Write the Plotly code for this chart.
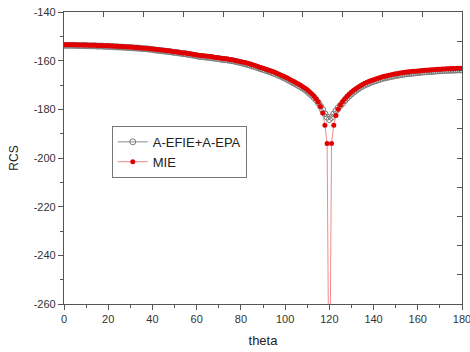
import plotly.graph_objects as go

theta = list(range(0, 181))

mie = [
    -153.5, -153.5, -153.5, -153.5, -153.5, -153.5, -153.6, -153.6, -153.6, -153.6, -153.6,
    -153.7, -153.7, -153.7, -153.7, -153.8, -153.8, -153.8, -153.9, -153.9, -153.9,
    -154.0, -154.0, -154.1, -154.1, -154.2, -154.2, -154.3, -154.3, -154.4, -154.4,
    -154.5, -154.6, -154.6, -154.7, -154.8, -154.9, -154.9, -155.0, -155.1, -155.2,
    -155.3, -155.4, -155.5, -155.6, -155.7, -155.8, -155.9, -156.0, -156.2, -156.3,
    -156.4, -156.5, -156.7, -156.8, -156.9, -157.1, -157.2, -157.4, -157.5, -157.7,
    -157.8, -157.9, -158.0, -158.1, -158.2, -158.3, -158.4, -158.6, -158.7, -158.8,
    -159.0, -159.1, -159.2, -159.3, -159.5, -159.6, -159.8, -160.0, -160.2, -160.4,
    -160.6, -160.8, -161.1, -161.3, -161.6, -161.9, -162.2, -162.5, -162.8, -163.1,
    -163.4, -163.7, -164.0, -164.4, -164.7, -165.1, -165.5, -165.9, -166.3, -166.7,
    -167.1, -167.6, -168.1, -168.6, -169.1, -169.6, -170.1, -170.7, -171.3, -172.0,
    -172.8, -173.6, -174.5, -175.6, -177.0, -178.8, -181.5, -186.5, -194.0, -320.0,
    -194.0, -186.5, -182.5, -180.0, -178.2, -176.8, -175.6, -174.6, -173.7, -172.9,
    -172.2, -171.5, -170.9, -170.3, -169.8, -169.3, -168.9, -168.5, -168.1, -167.8,
    -167.5, -167.2, -166.9, -166.6, -166.4, -166.2, -166.0, -165.8, -165.6, -165.4,
    -165.3, -165.1, -165.0, -164.8, -164.7, -164.6, -164.5, -164.4, -164.3, -164.2,
    -164.1, -164.0, -163.9, -163.9, -163.8, -163.7, -163.7, -163.6, -163.5, -163.5,
    -163.4, -163.4, -163.3, -163.3, -163.2, -163.2, -163.2, -163.1, -163.1, -163.1,
]

efie_epa = [
    -153.7, -153.7, -153.7, -153.7, -153.7, -153.7, -153.8, -153.8, -153.8, -153.8, -153.8,
    -153.9, -153.9, -153.9, -153.9, -154.0, -154.0, -154.0, -154.1, -154.1, -154.1,
    -154.2, -154.2, -154.3, -154.3, -154.4, -154.4, -154.5, -154.5, -154.6, -154.6,
    -154.7, -154.8, -154.8, -154.9, -155.0, -155.1, -155.1, -155.2, -155.3, -155.4,
    -155.6, -155.7, -155.8, -155.9, -156.0, -156.1, -156.2, -156.3, -156.5, -156.6,
    -156.7, -156.8, -157.0, -157.1, -157.2, -157.4, -157.5, -157.7, -157.8, -158.0,
    -158.2, -158.3, -158.4, -158.5, -158.6, -158.7, -158.8, -159.0, -159.1, -159.2,
    -159.4, -159.5, -159.6, -159.7, -159.9, -160.0, -160.2, -160.4, -160.6, -160.8,
    -161.1, -161.3, -161.6, -161.8, -162.1, -162.4, -162.7, -163.0, -163.3, -163.6,
    -163.9, -164.2, -164.5, -164.9, -165.2, -165.6, -166.0, -166.4, -166.8, -167.2,
    -167.7, -168.2, -168.7, -169.2, -169.7, -170.2, -170.7, -171.3, -171.9, -172.6,
    -173.4, -174.2, -175.1, -176.1, -177.3, -178.7, -180.2, -181.8, -183.2, -184.2,
    -183.3, -181.9, -180.6, -179.4, -178.4, -177.5, -176.4, -175.4, -174.5, -173.7,
    -172.9, -172.2, -171.6, -171.0, -170.5, -170.0, -169.6, -169.2, -168.8, -168.5,
    -168.2, -167.9, -167.6, -167.3, -167.1, -166.9, -166.7, -166.5, -166.3, -166.1,
    -166.0, -165.8, -165.7, -165.5, -165.4, -165.3, -165.2, -165.1, -165.0, -164.9,
    -164.8, -164.7, -164.6, -164.6, -164.5, -164.4, -164.4, -164.3, -164.2, -164.2,
    -164.1, -164.1, -164.0, -164.0, -163.9, -163.9, -163.9, -163.8, -163.8, -163.8,
]

x_ticks = [0, 20, 40, 60, 80, 100, 120, 140, 160, 180]
x_labels = ["0", "20", "40", "60", "80", "100", "120", "140", "160", "180"]
y_ticks = [-260, -240, -220, -200, -180, -160, -140]
y_labels = ["-260", "-240", "-220", "-200", "-180", "-160", "-140"]
top_ticks = [0, 18, 36, 54, 72, 90, 108, 126, 144, 162, 180]
right_ticks = [-260, -248, -236, -224, -212, -200, -188, -176, -164, -152, -140]

FONT = "Liberation Sans, Arial, sans-serif"

fig = go.Figure()
fig.add_trace(go.Scatter(
    x=theta, y=efie_epa, name="A-EFIE+A-EPA", mode="lines+markers",
    line=dict(color="#8a8a8a", width=1),
    marker=dict(symbol="circle-open", size=6, color="#7a7a7a", line=dict(width=1)),
))
fig.add_trace(go.Scatter(
    x=theta, y=mie, name="MIE", mode="lines+markers",
    line=dict(color="#f08a8a", width=1),
    marker=dict(symbol="circle", size=5, color="#e00000"),
))
# invisible trace to carry the mirrored (top/right) axes
fig.add_trace(go.Scatter(x=[0, 180], y=[-260, -140], xaxis="x2", yaxis="y2",
                         mode="markers", marker=dict(opacity=0), showlegend=False,
                         hoverinfo="skip"))

axis_common = dict(showgrid=False, zeroline=False, showline=True, automargin=False,
                   linecolor="#555555", linewidth=1.2, tickcolor="#555555")

fig.update_layout(
    width=470, height=352,
    margin=dict(l=64, r=8, t=12, b=48),
    paper_bgcolor="white", plot_bgcolor="white",
    font=dict(family=FONT, size=11, color="#333333"),
    xaxis=dict(range=[0, 180], tickvals=x_ticks, ticktext=x_labels, ticks="outside", ticklen=5,
               ticklabeloverflow="allow",
               minor=dict(dtick=10, tick0=0, ticks="outside", ticklen=3, tickcolor="#555555"),
               title=dict(text="theta", font=dict(size=13, color="#222222"), standoff=11),
               tickfont=dict(size=11), **axis_common),
    yaxis=dict(range=[-260, -140], tickvals=y_ticks, ticktext=y_labels, ticks="outside", ticklen=5,
               ticklabeloverflow="allow",
               minor=dict(dtick=10, tick0=0, ticks="outside", ticklen=3, tickcolor="#555555"),
               title=dict(text="RCS", font=dict(size=12, color="#222222"), standoff=12),
               tickfont=dict(size=11), **axis_common),
    xaxis2=dict(range=[0, 180], overlaying="x", side="top", tickvals=top_ticks,
                ticks="inside", ticklen=5, showticklabels=False, **axis_common),
    yaxis2=dict(range=[-260, -140], overlaying="y", side="right", tickvals=right_ticks,
                ticks="inside", ticklen=5, showticklabels=False, **axis_common),
    legend=dict(x=0.12, y=0.61, xanchor="left", yanchor="top",
                bgcolor="white", bordercolor="#777777", borderwidth=1,
                font=dict(size=13, color="#222222"), tracegroupgap=0,
                itemwidth=30),
    showlegend=True,
)

fig.write_html(
    "out.html",
    config={"displayModeBar": False},
    post_script="document.body.style.margin='0';document.body.style.overflow='hidden';",
)
